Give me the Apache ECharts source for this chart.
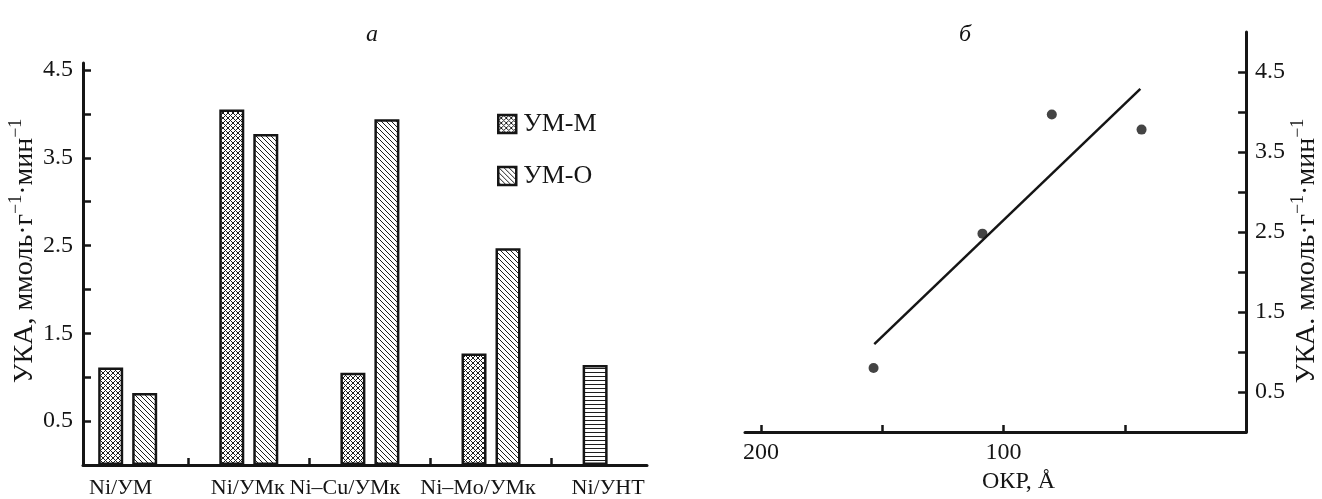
<!DOCTYPE html>
<html>
<head>
<meta charset="utf-8">
<script src="https://cdn.jsdelivr.net/npm/echarts@6/dist/echarts.min.js"></script>
<style>
html,body{margin:0;padding:0;background:#fff;}
#chart{width:1322px;height:499px;}
</style>
</head>
<body>
<div id="chart"></div>
<script>
// ---- data ----
const categories = ['Ni/УМ', 'Ni/УМк', 'Ni–Cu/УМк', 'Ni–Mo/УМк', 'Ni/УНТ'];
const seriesNames = ['УМ-М', 'УМ-О'];
const umM = [1.11, 4.05, 1.05, 1.27, null];
const umO = [0.82, 3.77, 3.94, 2.47, null];
const untValue = 1.14;          // Ni/УНТ bar
const leftLabelTicks = [0.5, 1.5, 2.5, 3.5, 4.5];
const minorTicks = [0.5, 1, 1.5, 2, 2.5, 3, 3.5, 4, 4.5];
const okr = [153.6, 108.7, 80.1, 43.1];      // ОКР, Å
const uka = [0.80, 2.48, 3.97, 3.78];        // УКА
const fitX = [153.3, 43.6];
const fitY = [1.10, 4.29];
const okrTicks = [50, 100, 150, 200];
const okrLabels = [100, 200];

// ---- styles ----
const FONT = 'Liberation Serif';
const INK = '#151515';
const FS = 24;
function makePattern(kind) {
  const n = kind === 'h' ? 4 : 5;
  const c = document.createElement('canvas');
  c.width = n; c.height = n;
  const ctx = c.getContext('2d');
  const img = ctx.createImageData(n, n);
  for (let y = 0; y < n; y++) {
    for (let x = 0; x < n; x++) {
      let on = false;
      if (kind === 'x') on = ((x - y + n) % n === 0) || ((x + y) % n === 0);
      if (kind === 'd') on = ((x - y + n) % n === 0);
      if (kind === 'h') on = (y === 0);
      const i = (y * n + x) * 4;
      const v = on ? 30 : 255;
      img.data[i] = v; img.data[i + 1] = v; img.data[i + 2] = v; img.data[i + 3] = 255;
    }
  }
  ctx.putImageData(img, 0, 0);
  return { image: c, repeat: 'repeat' };
}
const patCross = makePattern('x');
const patDiag = makePattern('d');
const patHor = makePattern('h');

const labelShift = [-7, -1, -25, -13, -4];
const rich = {};
labelShift.forEach((d, i) => {
  rich['c' + i] = {
    fontFamily: FONT, fontSize: 22, color: INK,
    padding: d < 0 ? [0, -2 * d, 0, 0] : [0, 0, 0, 2 * d]
  };
});

const nameRich = {
  a: { fontFamily: FONT, fontSize: 28, color: INK, lineHeight: 32, verticalAlign: 'bottom' },
  s: { fontFamily: FONT, fontSize: 18, color: INK, lineHeight: 32, verticalAlign: 'top' }
};

const barDataM = umM.map((v, i) => [i, v]);
barDataM[4] = { value: [4, untValue], itemStyle: { color: patHor } };
const barDataO = umO.map((v, i) => [i, v]);

const option = {
  animation: false,
  backgroundColor: '#fff',
  title: [
    { text: 'а', left: 367, top: 18, textAlign: 'center',
      textStyle: { fontFamily: FONT, fontStyle: 'italic', fontWeight: 'normal', fontSize: FS, color: INK } },
    { text: 'б', left: 960, top: 18, textAlign: 'center',
      textStyle: { fontFamily: FONT, fontStyle: 'italic', fontWeight: 'normal', fontSize: FS, color: INK } }
  ],
  legend: {
    data: seriesNames,
    orient: 'vertical',
    icon: 'rect',
    left: 492, top: 106,
    itemWidth: 18, itemHeight: 18, itemGap: 26,
    textStyle: { fontFamily: FONT, fontSize: 26, color: INK, padding: [0, 0, 0, 2] },
    itemStyle: { borderColor: INK, borderWidth: 2.5 }
  },
  grid: [
    { left: 83, top: 63, width: 564, height: 402.5 },
    { left: 745, top: 32, width: 507.5, height: 401.5 }
  ],
  xAxis: [
    {
      type: 'value', gridIndex: 0, min: -0.369, max: 4.288,
      axisLine: { onZero: false, lineStyle: { color: INK, width: 3 } },
      axisTick: { show: true, inside: true, length: 7, customValues: [0.5, 1.5, 2.5, 3.5],
        lineStyle: { color: INK, width: 2.5 } },
      axisLabel: { customValues: [0, 1, 2, 3, 4], margin: 12,
        formatter: v => { const i = Math.round(v); return '{c' + i + '|' + categories[i] + '}'; },
        rich: rich },
      splitLine: { show: false }
    },
    {
      type: 'value', gridIndex: 1, min: 0, max: 206.6, inverse: true,
      name: 'ОКР, Å', nameLocation: 'middle', nameGap: 36,
      nameTextStyle: { fontFamily: FONT, fontSize: FS, color: INK, padding: [0, 0, 0, 46] },
      axisLine: { onZero: false, lineStyle: { color: INK, width: 3 } },
      axisTick: { show: true, inside: true, length: 7, customValues: okrTicks,
        lineStyle: { color: INK, width: 2.5 } },
      axisLabel: { customValues: okrLabels, margin: 9, fontFamily: FONT, fontSize: FS, color: INK },
      splitLine: { show: false }
    }
  ],
  yAxis: [
    {
      type: 'value', gridIndex: 0, min: 0, max: 4.58,
      name: '{a|УКА, ммоль·г}{s|−1}{a|·мин}{s|−1}',
      nameLocation: 'middle', nameGap: 43, nameRotate: 90,
      nameTextStyle: { rich: nameRich, padding: [0, 0, 0, 26] },
      axisLine: { show: true, onZero: false, lineStyle: { color: INK, width: 3 } },
      axisTick: { show: true, inside: true, length: 8, customValues: minorTicks,
        lineStyle: { color: INK, width: 2.5 } },
      axisLabel: { customValues: leftLabelTicks, margin: 10, fontFamily: FONT, fontSize: FS, color: INK,
        formatter: v => v.toFixed(1) },
      splitLine: { show: false }
    },
    {
      type: 'value', gridIndex: 1, min: 0, max: 5, position: 'right',
      name: '{a|УКА. ммоль·г}{s|−1}{a|·мин}{s|−1}',
      nameLocation: 'middle', nameGap: 41, nameRotate: 90,
      nameTextStyle: { rich: nameRich, padding: [0, 38, 0, 0] },
      axisLine: { show: true, onZero: false, lineStyle: { color: INK, width: 3 } },
      axisTick: { show: true, inside: true, length: 8, customValues: minorTicks,
        lineStyle: { color: INK, width: 2.5 } },
      axisLabel: { customValues: leftLabelTicks, margin: 9, fontFamily: FONT, fontSize: FS, color: INK,
        formatter: v => v.toFixed(1) },
      splitLine: { show: false }
    }
  ],
  series: [
    {
      name: seriesNames[0], type: 'bar', xAxisIndex: 0, yAxisIndex: 0,
      data: barDataM, barWidth: 25, barGap: '36%',
      itemStyle: { color: patCross, borderColor: INK, borderWidth: 2.5 }
    },
    {
      name: seriesNames[1], type: 'bar', xAxisIndex: 0, yAxisIndex: 0,
      data: barDataO, barWidth: 25, barGap: '36%',
      itemStyle: { color: patDiag, borderColor: INK, borderWidth: 2.5 }
    },
    {
      type: 'scatter', xAxisIndex: 1, yAxisIndex: 1,
      data: okr.map((x, i) => [x, uka[i]]),
      symbolSize: 10, itemStyle: { color: INK }
    },
    {
      type: 'line', xAxisIndex: 1, yAxisIndex: 1,
      data: fitX.map((x, i) => [x, fitY[i]]),
      symbol: 'none', lineStyle: { color: INK, width: 2.5 }
    }
  ]
};
const chart = echarts.init(document.getElementById('chart'), null, { renderer: 'canvas' });
chart.setOption(option);
</script>
</body>
</html>
